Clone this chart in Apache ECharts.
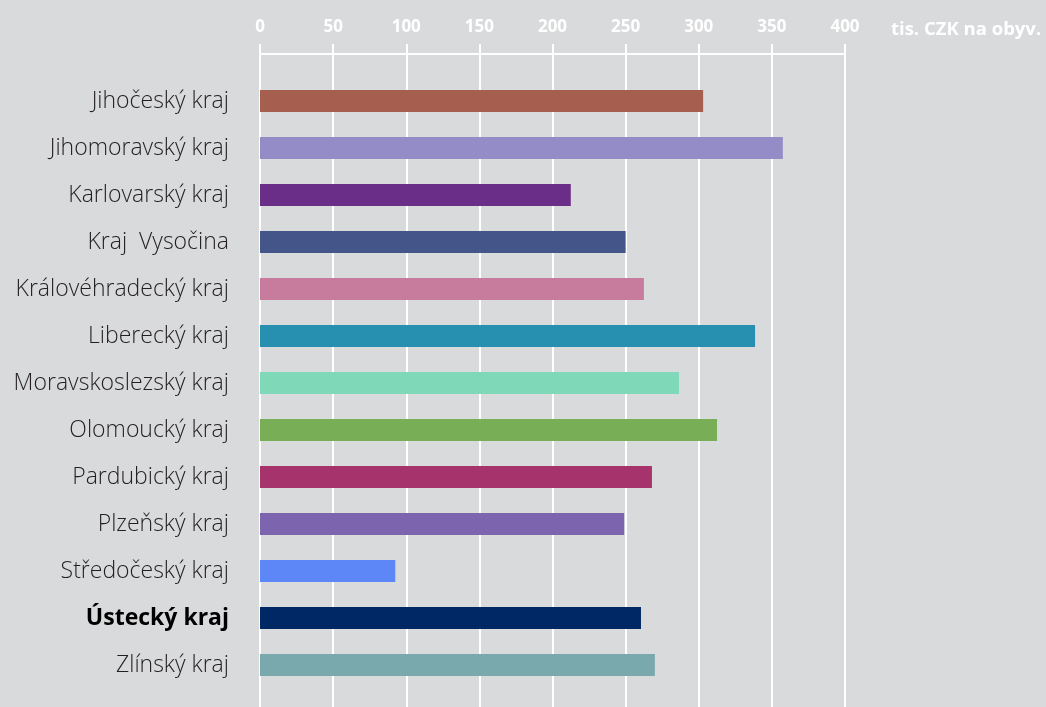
<!DOCTYPE html>
<html>
<head>
<meta charset="utf-8">
<script src="https://cdn.jsdelivr.net/npm/echarts@6/dist/echarts.min.js"></script>
<style>
html,body{margin:0;padding:0;background:#d9dadc;}
#chart{width:1046px;height:707px;}
</style>
</head>
<body>
<div id="chart"></div>
<script>
const categories = ['Jihočeský kraj','Jihomoravský kraj','Karlovarský kraj','Kraj  Vysočina','Královéhradecký kraj','Liberecký kraj','Moravskoslezský kraj','Olomoucký kraj','Pardubický kraj','Plzeňský kraj','Středočeský kraj','Ústecký kraj','Zlínský kraj'];
const values = [303, 357.5, 212.5, 250, 262.5, 338.5, 286.5, 312.5, 268, 249, 92.5, 260.5, 270];
const palette = ['#a65e4f','#948cc7','#6b2e88','#44558a','#c77c9e','#278fb0','#7fd8b8','#78ae55','#a6336c','#7c65ae','#5d86f6','#002864','#7aa9ad'];
const highlighted = 'Ústecký kraj';
const unitLabel = 'tis. CZK na obyv.';

const chart = echarts.init(document.getElementById('chart'));
chart.setOption({
  backgroundColor: '#d9dadc',
  animation: false,
  title: {
    text: unitLabel,
    left: 886, top: 15,
    textStyle: {color: '#ffffff', fontFamily: 'Open Sans', fontWeight: 'bold', fontSize: 18.5}
  },
  grid: [
    {left: 260, right: 201, top: 54, bottom: 0, containLabel: false},
    {left: 260, right: 201, top: 77.5, bottom: 18.5, containLabel: false}
  ],
  xAxis: [
    {
      gridIndex: 0, type: 'value', position: 'top', min: 0, max: 400, interval: 50,
      axisLine: {show: true, lineStyle: {color: '#ffffff', width: 2}},
      axisTick: {show: true, inside: false, length: 10, lineStyle: {color: '#ffffff', width: 2}},
      axisLabel: {color: '#ffffff', fontFamily: 'Open Sans', fontWeight: 'bold', fontSize: 17, margin: 18},
      splitLine: {show: true, lineStyle: {color: '#ffffff', width: 2}}
    },
    {
      gridIndex: 1, type: 'value', min: 0, max: 400, show: false
    }
  ],
  yAxis: [
    {gridIndex: 0, type: 'category', data: categories, show: false},
    {
      gridIndex: 1, type: 'category', data: categories, inverse: true,
      axisLine: {show: false}, axisTick: {show: false},
      axisLabel: {
        margin: 31, color: '#231f20', fontFamily: 'Open Sans', fontSize: 23, fontWeight: 300,
        formatter: v => v === highlighted ? '{b|' + v + '}' : v,
        rich: {b: {fontFamily: 'Open Sans', fontSize: 23, fontWeight: 'bold', color: '#000000'}}
      },
      splitLine: {show: false}
    }
  ],
  series: [{
    type: 'bar', xAxisIndex: 1, yAxisIndex: 1, barWidth: 22,
    data: values.map((v, i) => ({value: v, itemStyle: {color: palette[i]}}))
  }]
});
</script>
</body>
</html>
